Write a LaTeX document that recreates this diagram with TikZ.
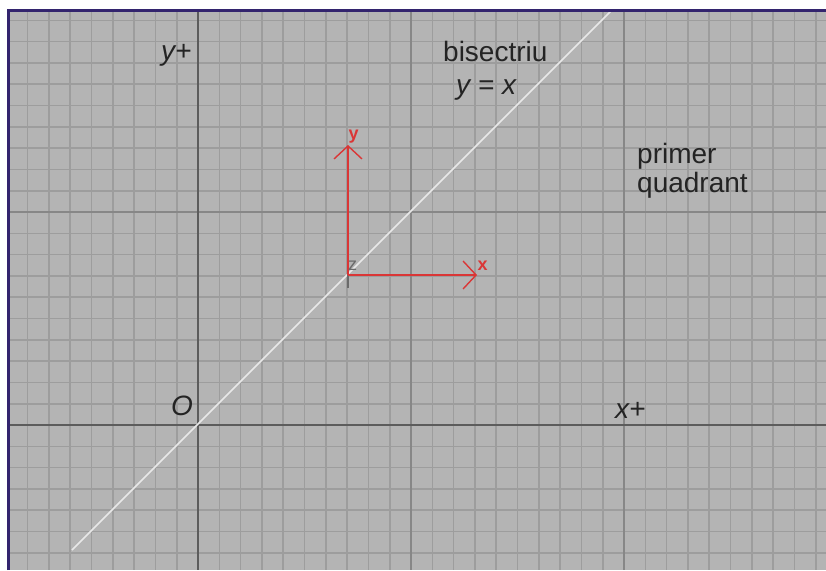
\documentclass[tikz,border=0pt]{standalone}
\usepackage{fontspec}
\setmainfont{Liberation Sans}
\usetikzlibrary{arrows.meta}
\definecolor{bgc}{HTML}{B4B4B4}
\definecolor{minorc}{HTML}{9D9D9D}
\definecolor{majorc}{HTML}{878787}
\definecolor{axisc}{HTML}{5C5C5C}
\definecolor{bisc}{HTML}{E8E8E8}
\definecolor{redc}{HTML}{DA3636}
\definecolor{bordc}{HTML}{33246E}
\definecolor{txt}{HTML}{242424}
\definecolor{zc}{HTML}{6A6A6A}
\tikzset{
  minorline/.style={draw=minorc, line width=1.6pt},
  majorline/.style={draw=majorc, line width=1.6pt},
  axisline/.style={draw=axisc, line width=1.5pt},
  bisline/.style={draw=bisc, line width=1.5pt},
  redax/.style={draw=redc, line width=1.4pt, -{Straight Barb[length=13pt,width=28pt]}},
  lab/.style={inner sep=0pt, anchor=base west, text=txt, font=\fontsize{28}{29}\selectfont},
  ilab/.style={lab, font=\fontsize{28}{29}\selectfont\itshape},
  small/.style={inner sep=0pt, anchor=base, font=\fontsize{18}{18}\selectfont}
}
\begin{document}
\begin{tikzpicture}[x=1pt,y=-1pt]
\useasboundingbox (0,0) rectangle (826,570);
\fill[white] (0,0) rectangle (826,570);
\fill[bgc] (8,10) rectangle (826,570);
\begin{scope}
\clip (8,10) rectangle (826,570);
\foreach \k in {-8,...,29} \draw[minorline] ({198+21.3*\k},10) -- ({198+21.3*\k},570);
\foreach \k in {-19,...,6} \draw[minorline] (8,{425+21.3*\k}) -- (826,{425+21.3*\k});
\draw[majorline] (411,10) -- (411,570);
\draw[majorline] (624,10) -- (624,570);
\draw[majorline] (8,212) -- (826,212);
\draw[axisline] (198,10) -- (198,570);
\draw[axisline] (8,425) -- (826,425);
\coordinate (b1) at (72,550);
\coordinate (b2) at (611,11);
\draw[bisline] (b1) -- (b2);
\end{scope}
\draw[draw=bordc, line width=3pt] (8.5,570) -- (8.5,10.5) -- (826,10.5);
% local axes
\coordinate (o) at (348,275);
\coordinate (ty) at (348,145);
\coordinate (tx) at (477,275);
\coordinate (tz) at (348,288);
\draw[draw=zc, line width=1.5pt] (o) -- (tz);
\draw[redax] (o) -- (ty);
\draw[redax] (o) -- (tx);
\node[small, text=redc, font=\fontsize{18}{18}\selectfont\bfseries] (ly) at (353.5,139) {y};
\node[small, text=redc, font=\fontsize{18}{18}\selectfont\bfseries] (lx) at (482.5,270) {x};
\node[small, text=zc] (lz) at (352.5,270) {z};
% labels
\node[ilab] (yplus) at (161,60) {y+};
\node[lab] (bis) at (443,61.5) {bisectriu};
\node[ilab] (yx) at (456,94) {y = x};
\node[lab] (prim) at (637,163.5) {primer};
\node[lab] (quad) at (637,192.5) {quadrant};
\node[ilab] (orig) at (171,415) {O};
\node[ilab] (xplus) at (615,418.5) {x+};
\end{tikzpicture}
\end{document}
